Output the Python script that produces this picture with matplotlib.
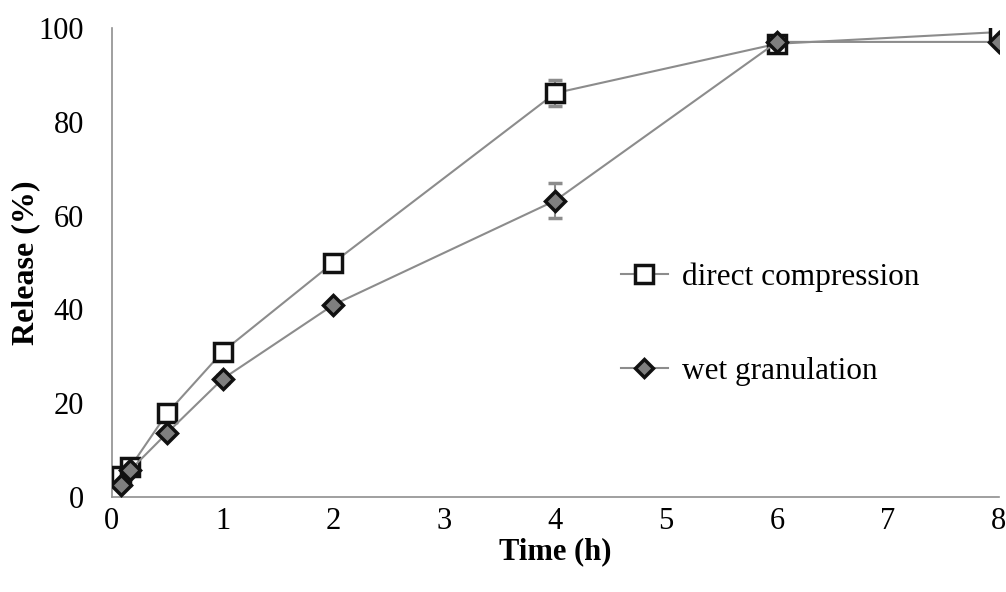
import matplotlib.pyplot as plt

time_h = [0.083, 0.167, 0.5, 1, 2, 4, 6, 8]
direct = [4.5, 6.4, 17.9, 31.0, 50.0, 86.1, 96.6, 99.1]
direct_err = [0.5, 0.5, 0.8, 1.5, 0.8, 2.8, 0.8, 0.5]
wet = [2.6, 5.8, 13.7, 25.2, 41.0, 63.2, 97.0, 97.0]
wet_err = [0.4, 0.4, 0.6, 0.8, 0.6, 3.8, 0.6, 0.5]

plt.rcParams['font.family'] = ['Liberation Serif', 'DejaVu Serif']

fig = plt.figure(figsize=(10.06, 5.92), dpi=100)
ax = fig.add_axes([0.111, 0.160, 0.882, 0.793])

line_col = '#8c8c8c'
ax.errorbar(time_h, direct, yerr=direct_err, color=line_col, lw=1.5,
	ecolor=line_col, elinewidth=1.5, capsize=5, capthick=1.5,
	marker='s', ms=13, mfc='white', mec='#111111', mew=2.5,
	label='direct compression', zorder=3)
ax.errorbar(time_h, wet, yerr=wet_err, color=line_col, lw=1.5,
	ecolor=line_col, elinewidth=1.5, capsize=5, capthick=1.5,
	marker='D', ms=10, mfc='#7f7f7f', mec='#111111', mew=2.5,
	label='wet granulation', zorder=4)

ax.set_xlim(0, 8)
ax.set_ylim(0, 100)
ax.set_xticks(range(0, 9))
ax.set_yticks(range(0, 101, 20))
ax.tick_params(length=0, labelsize=22)
ax.tick_params(axis='y', pad=20)
ax.tick_params(axis='x', pad=7)
for s in ['top', 'right']:
	ax.spines[s].set_visible(False)
for s in ['left', 'bottom']:
	ax.spines[s].set_color('#8f8f8f')
	ax.spines[s].set_linewidth(1.2)

ax.set_xlabel('Time (h)', fontsize=22, fontweight='bold', labelpad=1)
ax.set_ylabel('Release (%)', fontsize=23, fontweight='bold', labelpad=-1)

handles, labels = ax.get_legend_handles_labels()
handles = [h[0] for h in handles]
leg = fig.legend(handles, labels, loc='upper left', bbox_to_anchor=(0.617, 0.557),
	frameon=False, fontsize=22.5, handlelength=1.5, handletextpad=0.45,
	labelspacing=2.1, markerscale=0.95, borderpad=0, borderaxespad=0)

fig.savefig('out.png', dpi=100)
